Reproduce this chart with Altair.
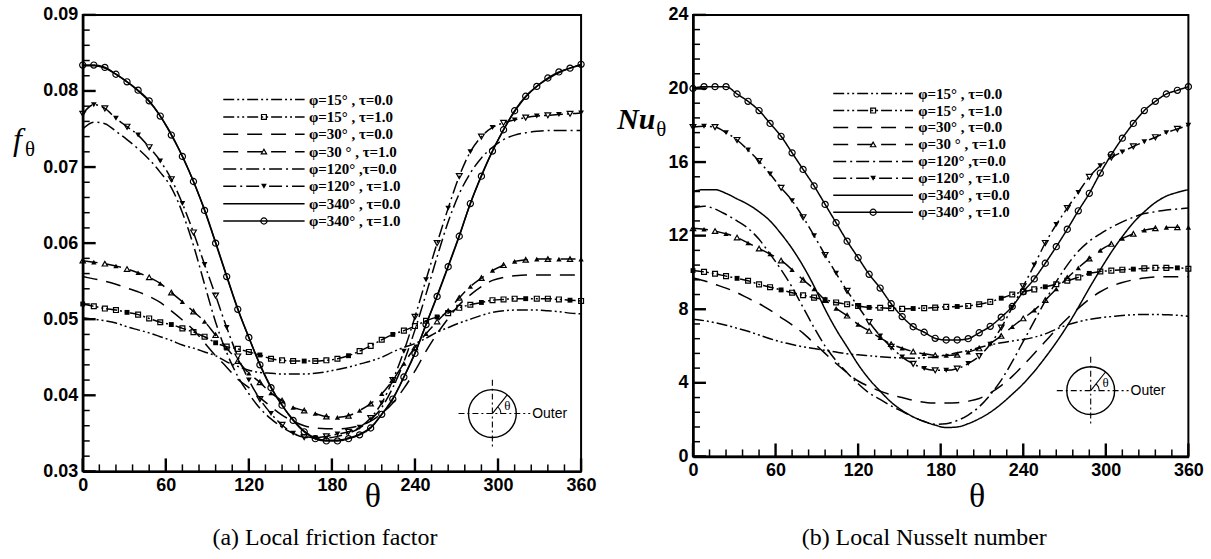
import altair as alt
import pandas as pd

# ---------------- data ----------------
THETA = [0, 8, 16, 24, 32, 40, 48, 56,
         64, 72, 80, 88, 96, 104, 112, 120,
         128, 136, 144, 152, 160, 168, 176, 184,
         192, 200, 208, 216, 224, 232, 240, 248,
         256, 264, 272, 280, 288, 296, 304, 312,
         320, 328, 336, 344, 352, 360]

KEYS = ["p15t0", "p15t1", "p30t0", "p30t1", "p120t0", "p120t1", "p340t0", "p340t1"]
LABELS = ["φ=15° , τ=0.0", "φ=15° , τ=1.0", "φ=30° , τ=0.0", "φ=30 ° , τ=1.0",
          "φ=120° ,τ=0.0", "φ=120° , τ=1.0", "φ=340° , τ=0.0", "φ=340° , τ=1.0"]

# (a) local friction factor f_theta
f_p15_t0 = [0.0502, 0.0500, 0.0498, 0.0495, 0.0490, 0.0486, 0.0482, 0.0477,
            0.0472, 0.0466, 0.0462, 0.0457, 0.0452, 0.0444, 0.0438, 0.0433,
            0.0430, 0.0429, 0.0428, 0.0428, 0.0428, 0.0429, 0.0431, 0.0434,
            0.0437, 0.0441, 0.0445, 0.0450, 0.0457, 0.0463, 0.0468, 0.0475,
            0.0483, 0.0489, 0.0495, 0.0500, 0.0505, 0.0509, 0.0511, 0.0512,
            0.0512, 0.0512, 0.0511, 0.0510, 0.0508, 0.0507]
f_p15_t1 = [0.0520, 0.0517, 0.0514, 0.0512, 0.0509, 0.0506, 0.0501, 0.0496,
            0.0493, 0.0488, 0.0483, 0.0477, 0.0469, 0.0464, 0.0461, 0.0457,
            0.0453, 0.0448, 0.0446, 0.0445, 0.0445, 0.0445, 0.0446, 0.0448,
            0.0452, 0.0458, 0.0465, 0.0473, 0.0480, 0.0485, 0.0491, 0.0498,
            0.0503, 0.0508, 0.0515, 0.0519, 0.0522, 0.0525, 0.0526, 0.0527,
            0.0527, 0.0527, 0.0527, 0.0526, 0.0525, 0.0524]
f_p30_t0 = [0.0556, 0.0553, 0.0550, 0.0546, 0.0541, 0.0536, 0.0530, 0.0522,
            0.0511, 0.0499, 0.0486, 0.0469, 0.0452, 0.0437, 0.0421, 0.0410,
            0.0397, 0.0385, 0.0374, 0.0366, 0.0360, 0.0357, 0.0356, 0.0356,
            0.0357, 0.0360, 0.0366, 0.0376, 0.0390, 0.0409, 0.0432, 0.0458,
            0.0481, 0.0501, 0.0519, 0.0532, 0.0543, 0.0551, 0.0555, 0.0557,
            0.0558, 0.0558, 0.0558, 0.0558, 0.0558, 0.0558]
f_p30_t1 = [0.0577, 0.0575, 0.0573, 0.0570, 0.0566, 0.0561, 0.0555, 0.0547,
            0.0535, 0.0523, 0.0510, 0.0497, 0.0479, 0.0462, 0.0445, 0.0429,
            0.0417, 0.0403, 0.0393, 0.0384, 0.0380, 0.0376, 0.0372, 0.0371,
            0.0373, 0.0380, 0.0389, 0.0402, 0.0420, 0.0442, 0.0463, 0.0481,
            0.0497, 0.0512, 0.0528, 0.0543, 0.0554, 0.0564, 0.0571, 0.0576,
            0.0578, 0.0579, 0.0579, 0.0579, 0.0579, 0.0579]
f_p120_t0 = [0.0750, 0.0759, 0.0757, 0.0747, 0.0736, 0.0724, 0.0710, 0.0693,
             0.0673, 0.0640, 0.0597, 0.0546, 0.0496, 0.0456, 0.0425, 0.0402,
             0.0383, 0.0369, 0.0358, 0.0350, 0.0346, 0.0344, 0.0344, 0.0346,
             0.0350, 0.0357, 0.0368, 0.0384, 0.0410, 0.0444, 0.0486, 0.0533,
             0.0582, 0.0628, 0.0665, 0.0692, 0.0712, 0.0726, 0.0736, 0.0742,
             0.0745, 0.0747, 0.0748, 0.0748, 0.0748, 0.0748]
f_p120_t1 = [0.0770, 0.0782, 0.0777, 0.0764, 0.0753, 0.0742, 0.0726, 0.0708,
             0.0684, 0.0652, 0.0614, 0.0572, 0.0531, 0.0489, 0.0451, 0.0420,
             0.0395, 0.0376, 0.0361, 0.0350, 0.0345, 0.0344, 0.0346, 0.0349,
             0.0352, 0.0358, 0.0370, 0.0390, 0.0420, 0.0458, 0.0503, 0.0552,
             0.0600, 0.0646, 0.0688, 0.0720, 0.0740, 0.0752, 0.0758, 0.0762,
             0.0765, 0.0767, 0.0768, 0.0769, 0.0770, 0.0771]
f_p340_t0 = [0.0833, 0.0833, 0.0830, 0.0822, 0.0812, 0.0800, 0.0786, 0.0767,
             0.0743, 0.0714, 0.0681, 0.0644, 0.0601, 0.0557, 0.0514, 0.0476,
             0.0441, 0.0411, 0.0387, 0.0368, 0.0353, 0.0344, 0.0341, 0.0341,
             0.0344, 0.0349, 0.0358, 0.0375, 0.0396, 0.0424, 0.0456, 0.0493,
             0.0531, 0.0570, 0.0610, 0.0652, 0.0689, 0.0721, 0.0749, 0.0773,
             0.0792, 0.0806, 0.0816, 0.0824, 0.0830, 0.0834]
f_p340_t1 = [0.0834, 0.0834, 0.0831, 0.0822, 0.0812, 0.0801, 0.0787, 0.0767,
             0.0742, 0.0714, 0.0681, 0.0643, 0.0600, 0.0556, 0.0513, 0.0476,
             0.0440, 0.0410, 0.0387, 0.0367, 0.0352, 0.0343, 0.0340, 0.0340,
             0.0343, 0.0348, 0.0357, 0.0375, 0.0395, 0.0424, 0.0455, 0.0493,
             0.0530, 0.0569, 0.0609, 0.0652, 0.0688, 0.0721, 0.0749, 0.0774,
             0.0793, 0.0806, 0.0817, 0.0825, 0.0830, 0.0835]

# (b) local Nusselt number Nu_theta
nu_p15_t0 = [7.45, 7.38, 7.27, 7.13, 6.97, 6.80, 6.60, 6.40,
             6.22, 6.08, 5.96, 5.86, 5.77, 5.67, 5.58, 5.52,
             5.47, 5.42, 5.38, 5.35, 5.34, 5.36, 5.42, 5.52,
             5.63, 5.76, 5.92, 6.06, 6.18, 6.28, 6.36, 6.48,
             6.66, 6.92, 7.15, 7.32, 7.45, 7.54, 7.60, 7.66,
             7.70, 7.72, 7.72, 7.70, 7.67, 7.62]
nu_p15_t1 = [10.10, 10.03, 9.93, 9.80, 9.68, 9.55, 9.35, 9.20,
             9.05, 8.90, 8.76, 8.63, 8.52, 8.37, 8.27, 8.18,
             8.10, 8.08, 8.06, 8.02, 8.04, 8.06, 8.09, 8.13,
             8.15, 8.18, 8.27, 8.40, 8.60, 8.80, 8.95, 9.08,
             9.22, 9.36, 9.55, 9.73, 9.95, 10.05, 10.10, 10.15,
             10.18, 10.22, 10.25, 10.25, 10.25, 10.20]
nu_p30_t0 = [9.70, 9.55, 9.35, 9.15, 8.90, 8.60, 8.30, 7.95,
             7.55, 7.15, 6.70, 6.15, 5.60, 5.05, 4.55, 4.10,
             3.80, 3.55, 3.35, 3.20, 3.05, 2.95, 2.90, 2.90,
             2.92, 3.00, 3.15, 3.45, 3.85, 4.35, 4.95, 5.60,
             6.25, 6.90, 7.50, 8.05, 8.55, 8.95, 9.25, 9.45,
             9.60, 9.70, 9.75, 9.77, 9.77, 9.77]
nu_p30_t1 = [12.40, 12.35, 12.25, 12.10, 11.90, 11.60, 11.30, 11.00,
             10.65, 10.15, 9.60, 9.10, 8.50, 8.05, 7.65, 7.18,
             6.82, 6.45, 6.10, 5.88, 5.70, 5.58, 5.50, 5.49,
             5.52, 5.67, 5.87, 6.15, 6.55, 7.05, 7.50, 7.95,
             8.50, 9.10, 9.70, 10.25, 10.75, 11.20, 11.55, 11.85,
             12.10, 12.30, 12.40, 12.45, 12.45, 12.45]
nu_p120_t0 = [13.50, 13.60, 13.45, 13.15, 12.80, 12.40, 11.80, 11.00,
              10.15, 9.20, 8.10, 7.00, 6.00, 5.20, 4.55, 3.95,
              3.45, 3.10, 2.75, 2.45, 2.15, 1.90, 1.75, 1.78,
              1.95, 2.25, 2.70, 3.35, 4.15, 5.15, 6.25, 7.35,
              8.45, 9.50, 10.40, 11.15, 11.70, 12.10, 12.45, 12.75,
              13.00, 13.20, 13.30, 13.40, 13.45, 13.50]
nu_p120_t1 = [17.90, 17.95, 17.90, 17.60, 17.20, 16.65, 16.05, 15.35,
              14.60, 13.90, 13.00, 12.00, 10.95, 9.95, 9.00, 8.15,
              7.30, 6.55, 5.95, 5.40, 5.03, 4.78, 4.68, 4.68,
              4.77, 5.05, 5.45, 6.10, 7.00, 8.10, 9.25, 10.40,
              11.60, 12.60, 13.50, 14.35, 15.20, 15.80, 16.25, 16.55,
              16.85, 17.10, 17.35, 17.60, 17.80, 18.00]
nu_p340_t0 = [14.40, 14.50, 14.50, 14.30, 14.00, 13.70, 13.30, 12.80,
              12.10, 11.30, 10.35, 9.25, 8.00, 6.90, 5.95, 5.00,
              4.20, 3.55, 2.95, 2.50, 2.15, 1.90, 1.70, 1.57,
              1.60, 1.78, 2.05, 2.40, 2.85, 3.38, 3.95, 4.62,
              5.38, 6.20, 7.10, 8.10, 9.15, 10.15, 11.10, 11.95,
              12.70, 13.30, 13.80, 14.15, 14.35, 14.50]
nu_p340_t1 = [20.00, 20.10, 20.10, 20.10, 19.70, 19.30, 18.80, 18.10,
              17.40, 16.50, 15.60, 14.70, 13.70, 12.70, 11.70, 10.80,
              9.90, 9.15, 8.30, 7.60, 7.05, 6.75, 6.42, 6.33,
              6.33, 6.40, 6.72, 7.07, 7.57, 8.15, 8.95, 9.65,
              10.50, 11.40, 12.35, 13.35, 14.30, 15.40, 16.40, 17.30,
              18.10, 18.80, 19.30, 19.70, 19.90, 20.10]

F_SERIES = [f_p15_t0, f_p15_t1, f_p30_t0, f_p30_t1, f_p120_t0, f_p120_t1, f_p340_t0, f_p340_t1]
NU_SERIES = [nu_p15_t0, nu_p15_t1, nu_p30_t0, nu_p30_t1, nu_p120_t0, nu_p120_t1, nu_p340_t0, nu_p340_t1]

X_MAJOR = [0, 60, 120, 180, 240, 300, 360]
F_MAJOR = [0.03, 0.04, 0.05, 0.06, 0.07, 0.08, 0.09]
NU_MAJOR = [0, 4, 8, 12, 16, 20, 24]

# ---------------- styles ----------------
SANS = "Liberation Sans"
SERIF = "Liberation Serif"
DASHES = [[11, 3, 2, 3, 2, 3], [11, 3, 2, 3, 2, 3], [15, 9], [15, 9],
          [13, 4, 2, 4], [13, 4, 2, 4], [1, 0], [1, 0]]
MARKED = ["p15t1", "p30t1", "p120t1", "p340t1"]
SHAPES = ["square", "triangle-up", "triangle-down", "circle"]
SIZES = [24, 38, 38, 62]
LW = 1.5


def frange(a, b, step):
    out, v = [], a
    while v <= b + 1e-9:
        out.append(round(v, 6))
        v += step
    return out


def panel(series, ydom, ymajor, yminor_step, yfmt, W, H, leg, inset, ytitle, xtitle_x, caption, caption_x, anchor):
    rows = []
    for k, vals in zip(KEYS, series):
        for i, (t, v) in enumerate(zip(THETA, vals)):
            rows.append({"key": k, "theta": t, "v": v, "i": i})
    df = pd.DataFrame(rows)

    xs = alt.Scale(domain=[0, 360], nice=False, zero=False)
    ys = alt.Scale(domain=ydom, nice=False, zero=False)
    xaxis = alt.Axis(values=X_MAJOR, ticks=False, grid=False, title=None,
                     labelFont=SANS, labelFontWeight="bold", labelFontSize=18,
                     labelColor="black", domainColor="black", domainWidth=2.5,
                     labelPadding=5, labelFlush=False)
    yaxis = alt.Axis(values=ymajor, format=yfmt, ticks=False, grid=False, title=None,
                     labelFont=SANS, labelFontWeight="bold", labelFontSize=18,
                     labelColor="black", domainColor="black", domainWidth=2.5,
                     labelPadding=5)
    dash = alt.StrokeDash("key:N", scale=alt.Scale(domain=KEYS, range=DASHES), legend=None)
    shape = alt.Shape("key:N", scale=alt.Scale(domain=MARKED, range=SHAPES), legend=None)
    size = alt.Size("key:N", scale=alt.Scale(domain=MARKED, range=SIZES), legend=None)

    X = lambda f: alt.X(f, scale=xs, axis=xaxis)
    Y = lambda f: alt.Y(f, scale=ys, axis=yaxis)

    lines = alt.Chart(df).mark_line(color="black", strokeWidth=LW, interpolate="monotone").encode(
        x=X("theta:Q"), y=Y("v:Q"), strokeDash=dash, detail="key:N")

    mk = df[df["key"].isin(MARKED)].copy()
    mk["filled"] = [1 if (k in ("p30t1", "p120t1") and i % 2 == 1) or (k == "p15t1" and i % 4 == 0) else 0
                    for k, i in zip(mk["key"], mk["i"])]
    hollow = alt.Chart(mk[mk["filled"] == 0]).mark_point(filled=False, color="black", strokeWidth=1.2, opacity=1).encode(
        x=X("theta:Q"), y=Y("v:Q"), shape=shape, size=size)
    solid = alt.Chart(mk[mk["filled"] == 1]).mark_point(filled=True, color="black", opacity=1).encode(
        x=X("theta:Q"), y=Y("v:Q"), shape=shape, size=size)

    # inward ticks
    xmin = [t for t in frange(0, 360, 12) if t not in X_MAJOR]
    ymaj_df = pd.DataFrame({"t": ymajor})
    ymin_df = pd.DataFrame({"t": [t for t in frange(ydom[0], ydom[1], yminor_step)
                                   if all(abs(t - m) > 1e-6 for m in ymajor)]})
    xt_maj = alt.Chart(pd.DataFrame({"t": X_MAJOR})).mark_rule(color="black", strokeWidth=2.4).encode(
        x=X("t:Q"), y=alt.value(H), y2=alt.value(H - 13))
    xt_min = alt.Chart(pd.DataFrame({"t": xmin})).mark_rule(color="black", strokeWidth=1.5).encode(
        x=X("t:Q"), y=alt.value(H), y2=alt.value(H - 7))
    yt_maj = alt.Chart(ymaj_df).mark_rule(color="black", strokeWidth=2.4).encode(
        y=Y("t:Q"), x=alt.value(0), x2=alt.value(13))
    yt_min = alt.Chart(ymin_df).mark_rule(color="black", strokeWidth=1.5).encode(
        y=Y("t:Q"), x=alt.value(0), x2=alt.value(7))

    # legend (placed in data units computed from panel fractions)
    lx1, lx2, ltx, ly0, ldy = leg
    to_t = lambda px: px / W * 360.0
    to_v = lambda py: ydom[1] - py / H * (ydom[1] - ydom[0])
    legdf = pd.DataFrame({"key": KEYS, "label": LABELS,
                          "t1": [to_t(lx1)] * 8, "t2": [to_t(lx2)] * 8,
                          "tm": [to_t((lx1 + lx2) / 2)] * 8, "tt": [to_t(ltx)] * 8,
                          "v": [to_v(ly0 + i * ldy) for i in range(8)]})
    leg_lines = alt.Chart(legdf).mark_rule(color="black", strokeWidth=LW).encode(
        x=X("t1:Q"), x2="t2:Q", y=Y("v:Q"), strokeDash=dash)
    legm = legdf[legdf["key"].isin(MARKED)]
    leg_mk_h = alt.Chart(legm[legm["key"] != "p120t1"]).mark_point(filled=False, color="black", strokeWidth=1.2, opacity=1).encode(
        x=X("tm:Q"), y=Y("v:Q"), shape=shape, size=size)
    leg_mk_f = alt.Chart(legm[legm["key"] == "p120t1"]).mark_point(filled=True, color="black", opacity=1).encode(
        x=X("tm:Q"), y=Y("v:Q"), shape=shape, size=size)
    leg_txt = alt.Chart(legdf).mark_text(align="left", baseline="middle", font=SERIF, fontSize=15,
                                         fontWeight="bold", color="black").encode(
        x=X("tt:Q"), y=Y("v:Q"), text="label:N")

    one = pd.DataFrame({"a": [0]})

    def txt(s, x, y, **kw):
        return alt.Chart(one).mark_text(text=s, color="black", **kw).encode(x=alt.value(x), y=alt.value(y))

    def rule(x1, y1, x2, y2, **kw):
        return alt.Chart(one).mark_rule(color="black", **kw).encode(
            x=alt.value(x1), x2=alt.value(x2), y=alt.value(y1), y2=alt.value(y2))

    cx, cy, r = inset
    deco = [
        alt.Chart(one).mark_point(shape="circle", filled=False, color="black", strokeWidth=1.4,
                                  size=(2 * r) ** 2, opacity=1).encode(x=alt.value(cx), y=alt.value(cy)),
        rule(cx, cy - r - 10, cx, cy + r + 10, strokeWidth=1.1, strokeDash=[6, 3, 2, 3]),
        rule(cx - r - 10, cy, cx + r + 14, cy, strokeWidth=1.1, strokeDash=[6, 3, 2, 3]),
        rule(cx, cy, cx + r * 0.62, cy - r * 0.78, strokeWidth=1.1),
        alt.Chart(one).mark_arc(radius=9, radius2=8, color="black").encode(
            x=alt.value(cx), y=alt.value(cy), theta=alt.value(0.67), theta2=alt.value(1.57)),
        txt("θ", cx + 15, cy - 8, font=SERIF, fontSize=13, align="center", baseline="middle"),
        txt("Outer", cx + r + 16, cy, font=SANS, fontSize=14, align="left", baseline="middle"),
    ]

    main, sub, tx, ty, sx, sy, msize, ssize, mweight = ytitle
    titles = [
        txt(main, tx, ty, font=SERIF, fontSize=msize, fontStyle="italic", fontWeight=mweight,
            align="left", baseline="alphabetic"),
        txt(sub, sx, sy, font=SERIF, fontSize=ssize, align="left", baseline="alphabetic"),
        txt("θ", xtitle_x, 494, font=SERIF, fontSize=34, align="center", baseline="alphabetic"),
        txt(caption, caption_x, 532, font=SERIF, fontSize=24, align="center", baseline="alphabetic"),
        alt.Chart(one).mark_point(filled=True, color="white", size=1, opacity=1).encode(
            x=alt.value(anchor[0]), y=alt.value(anchor[1])),
    ]

    return alt.layer(lines, hollow, solid, xt_maj, xt_min, yt_maj, yt_min,
                     leg_lines, leg_mk_h, leg_mk_f, leg_txt, *deco, *titles).properties(width=W, height=H)


WL, HL = 500, 458
WR, HR = 497, 443

left = panel(F_SERIES, [0.03, 0.09], F_MAJOR, 0.002, ".2f", WL, HL,
             leg=(141, 222.6, 227, 85, 17.4), inset=(411, 400, 24),
             ytitle=("f", "θ", -70, 136, -58, 142, 32, 21, "normal"),
             xtitle_x=291, caption="(a)  Local friction factor", caption_x=243,
             anchor=(-80.7, -12))

right = panel(NU_SERIES, [0, 24], NU_MAJOR, 0.8, "d", WR, HR,
              leg=(140.7, 220.7, 226, 79, 17.0), inset=(399, 377, 24),
              ytitle=("Nu", "θ", -76, 114, -37, 122, 30, 21, "bold"),
              xtitle_x=285, caption="(b)  Local Nusselt number", caption_x=232,
              anchor=(518, 547))

chart = alt.hconcat(left, right, spacing=112.3, bounds="flush").configure_view(
    stroke="black", strokeWidth=2).properties(padding=0, background="white")

chart.save("out.html", embed_options={"renderer": "svg", "actions": False})
